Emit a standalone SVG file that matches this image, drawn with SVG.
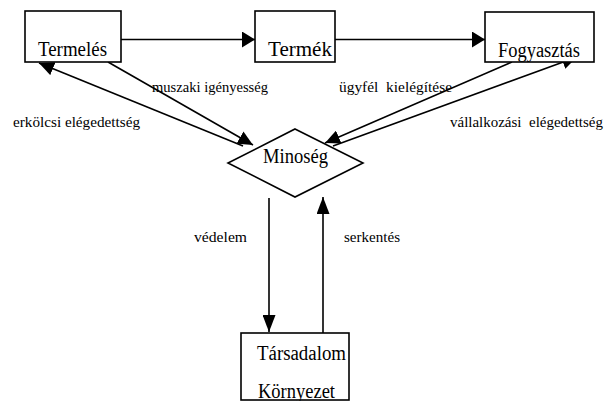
<svg xmlns="http://www.w3.org/2000/svg" width="604" height="401" viewBox="0 0 604 401">
<style>
.box{fill:#fff;stroke:#000;stroke-width:1.6}
.ln{fill:none;stroke:#000;stroke-width:1.6}
</style>
<defs>
<marker id="ah" markerUnits="userSpaceOnUse" markerWidth="13" markerHeight="16" refX="13" refY="8" orient="auto"><path d="M0,0 L13,8 L0,16 z"/></marker>
<marker id="ad" markerUnits="userSpaceOnUse" markerWidth="15" markerHeight="14" refX="15" refY="7" orient="auto"><path d="M0,0 L15,7 L0,14 z"/></marker>
<marker id="av" markerUnits="userSpaceOnUse" markerWidth="17" markerHeight="13" refX="17" refY="6.5" orient="auto"><path d="M0,0 L17,6.5 L0,13 z"/></marker>
</defs>
<rect width="604" height="401" fill="#fff"/>
<g id="connectors">
<path class="ln" d="M121,39.5 H255" marker-end="url(#ah)"/>
<path class="ln" d="M335,39.5 H485" marker-end="url(#ah)"/>
<path class="ln" d="M108,62 L253,145" marker-end="url(#ad)"/>
<path class="ln" d="M243,146 L39,63" marker-end="url(#ad)"/>
<path class="ln" d="M512,62 L325,143" marker-end="url(#ad)"/>
<path class="ln" d="M333,146 L577,57" marker-end="url(#ad)"/>
<path class="ln" d="M269,198 V332" marker-end="url(#av)"/>
<path class="ln" d="M323,333 V197" marker-end="url(#av)"/>
<g font-family="Liberation Serif" font-size="15" fill="#000">
<text x="152" y="92" textLength="116" lengthAdjust="spacingAndGlyphs">muszaki igényesség</text>
<text x="13" y="127" textLength="127" lengthAdjust="spacingAndGlyphs">erkölcsi elégedettség</text>
<text x="339" y="92" textLength="113" lengthAdjust="spacingAndGlyphs" xml:space="preserve">ügyfél  kielégítése</text>
<text x="450" y="127" textLength="153" lengthAdjust="spacingAndGlyphs" xml:space="preserve">vállalkozási  elégedettség</text>
<text x="194" y="242" textLength="53" lengthAdjust="spacingAndGlyphs">védelem</text>
<text x="344" y="242" textLength="56" lengthAdjust="spacingAndGlyphs">serkentés</text>
</g>
</g>
<g font-family="Liberation Serif" font-size="20" fill="#000">
<g id="termeles">
<rect class="box" x="25" y="11" width="96" height="51"/>
<text x="38" y="56" textLength="69" lengthAdjust="spacingAndGlyphs">Termelés</text>
</g>
<g id="termek">
<rect class="box" x="255" y="11" width="80" height="51"/>
<text x="268" y="56" textLength="64" lengthAdjust="spacingAndGlyphs">Termék</text>
</g>
<g id="fogyasztas">
<rect class="box" x="485" y="12" width="109" height="50"/>
<text x="498" y="57" textLength="82" lengthAdjust="spacingAndGlyphs">Fogyasztás</text>
</g>
<g id="minoseg">
<path class="box" d="M295,129 L363,163 L295,197 L228,163 z"/>
<text x="263" y="163" textLength="65" lengthAdjust="spacingAndGlyphs">Minoség</text>
</g>
<g id="tarsadalom">
<rect class="box" x="241" y="333" width="108" height="67"/>
<text x="257" y="360" textLength="89" lengthAdjust="spacingAndGlyphs">Társadalom</text>
<text x="258" y="398" textLength="77" lengthAdjust="spacingAndGlyphs">Környezet</text>
</g>
</g>
</svg>
